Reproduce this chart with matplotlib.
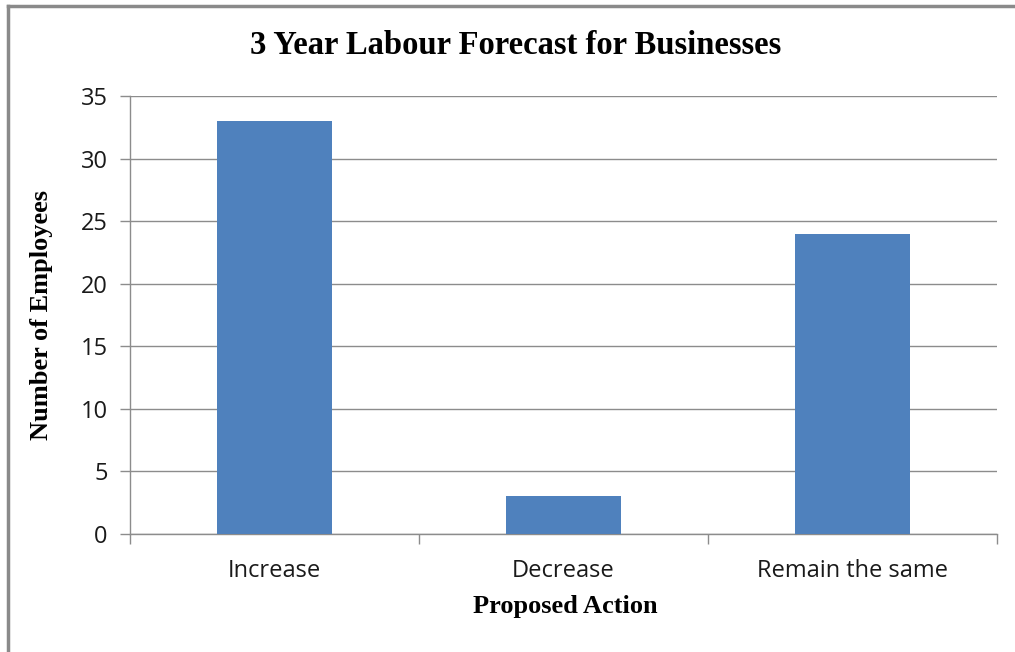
import matplotlib
matplotlib.use("Agg")
import matplotlib.pyplot as plt
from matplotlib.lines import Line2D

actions = ["Increase", "Decrease", "Remain the same"]
employees = [33, 3, 24]
y_ticks = [0, 5, 10, 15, 20, 25, 30, 35]

bar_color = "#4F81BD"
grid_color = "#8C8C8C"
serif = ["Liberation Serif", "DejaVu Serif"]
sans = "Open Sans"

fig = plt.figure(figsize=(10.15, 6.52), dpi=100)
ax = fig.add_axes([130 / 1015, 1 - 534 / 652, 867 / 1015, 438 / 652])

x = range(len(actions))
ax.bar(x, employees, width=0.4, color=bar_color, zorder=3)

ax.set_xlim(-0.5, len(actions) - 0.5)
ax.set_ylim(0, 35)
ax.set_yticks(y_ticks)
ax.set_xticks(list(x))
ax.set_xticklabels(actions, fontsize=17, family=sans, color="#1a1a1a")
ax.set_xticks([i - 0.5 for i in range(len(actions) + 1)], minor=True)
ax.tick_params(axis="x", which="major", length=0, pad=18)
ax.tick_params(axis="x", which="minor", length=7, color=grid_color, width=1)
ax.tick_params(axis="y", length=7, color=grid_color, width=1, pad=9,
               labelsize=17)
for lbl in ax.get_yticklabels():
    lbl.set_family(sans)
    lbl.set_color("#1a1a1a")

ax.grid(axis="y", color=grid_color, linewidth=1, zorder=0)
for side in ["top", "right"]:
    ax.spines[side].set_visible(False)
for side in ["left", "bottom"]:
    ax.spines[side].set_color(grid_color)
    ax.spines[side].set_linewidth(1)

fig.text(516 / 1015, 1 - 46 / 652, "3 Year Labour Forecast for Businesses",
         ha="center", va="center", fontsize=23.5, fontweight="bold", family=serif)
fig.text(565 / 1015, 1 - 607 / 652, "Proposed Action",
         ha="center", va="center", fontsize=19, fontweight="bold", family=serif)
fig.text(42 / 1015, 1 - 315 / 652, "Number of Employees", rotation=90,
         ha="center", va="center", fontsize=19, fontweight="bold", family=serif)

# chart frame edges
fig.add_artist(Line2D([8 / 1015, 1], [1 - 6 / 652, 1 - 6 / 652],
                      transform=fig.transFigure, color="#8a8a8a", linewidth=2.5))
fig.add_artist(Line2D([8 / 1015, 8 / 1015], [0, 1 - 6 / 652],
                      transform=fig.transFigure, color="#8a8a8a", linewidth=2.5))

fig.savefig("out.png", dpi=100)
